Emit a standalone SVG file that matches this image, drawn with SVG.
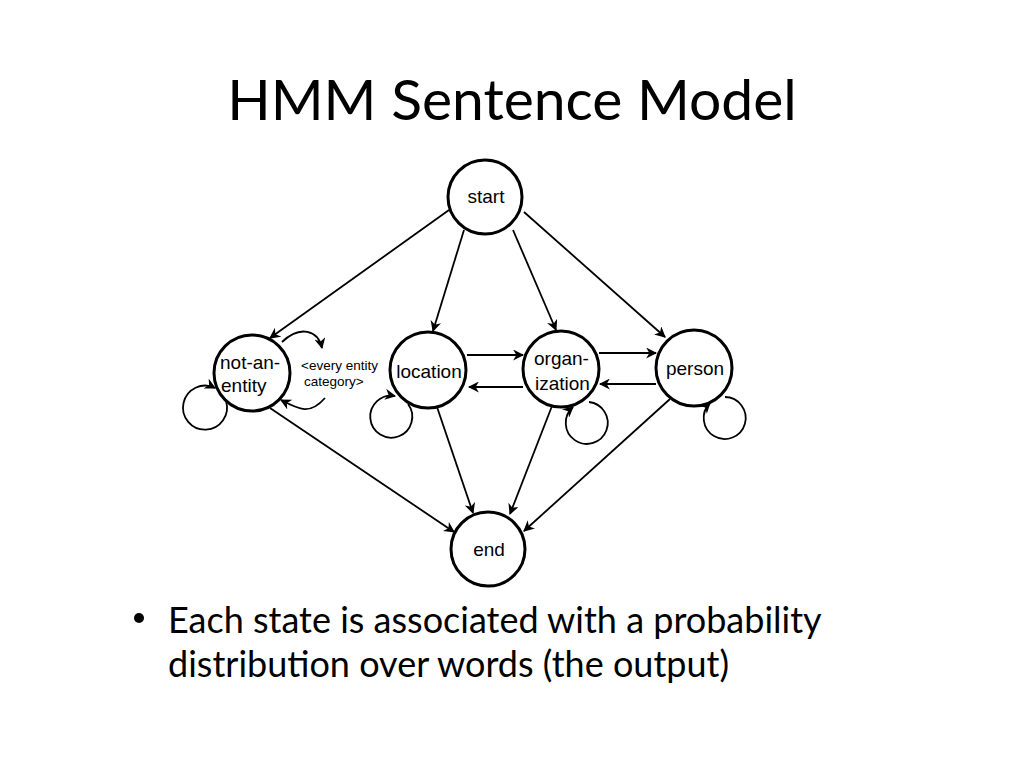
<svg xmlns="http://www.w3.org/2000/svg" width="1024" height="768" viewBox="0 0 1024 768">
<style>
.n{fill:#fff;stroke:#000;stroke-width:3}
.e{fill:none;stroke:#000;stroke-width:1.8}
.t{font-family:"Liberation Sans",Arial,sans-serif;font-size:19px;fill:#000}
.s{font-family:"Liberation Sans",Arial,sans-serif;font-size:13.5px;fill:#000}
.big{font-family:Lato,"Open Sans",sans-serif;fill:#000}
</style>
<defs><marker id="a" viewBox="0 0 10 10" refX="9" refY="5" markerWidth="11" markerHeight="11" orient="auto" markerUnits="userSpaceOnUse"><path d="M0,0L10,5L0,10L3,5z" fill="#000"/></marker></defs>
<rect width="1024" height="768" fill="#fff"/>
<text class="big" x="512" y="120" style="font-size:57px" text-anchor="middle">HMM Sentence Model</text>
<g id="edges" class="e" marker-end="url(#a)">
<line x1="449" y1="210" x2="270" y2="338"/>
<line x1="464" y1="230" x2="433" y2="331"/>
<line x1="513" y1="230" x2="556" y2="330"/>
<line x1="524" y1="212" x2="665" y2="337"/>
<line x1="467" y1="355" x2="523" y2="355"/>
<line x1="523" y1="387" x2="469" y2="387"/>
<line x1="599" y1="353" x2="656" y2="353"/>
<line x1="656" y1="384" x2="600" y2="384"/>
<line x1="270" y1="408" x2="454" y2="532"/>
<line x1="437" y1="407" x2="473" y2="513"/>
<line x1="552" y1="406" x2="510" y2="514"/>
<line x1="670" y1="399" x2="524" y2="531"/>
<path d="M282,342 C300,325 318,330 322,348"/>
<path d="M325,398 C310,415 300,410 281,400"/>
<path d="M226,401 A22 22 0 1 1 215,388"/>
<path d="M408,404 A21 21 0 1 1 395,396"/>
<path d="M589,402 A21 21 0 1 1 573,407"/>
<path d="M725,397 A21 21 0 1 1 710,403"/>
</g>
<g id="start"><circle class="n" cx="485" cy="197" r="37"/><text class="t" x="486" y="203" text-anchor="middle">start</text></g>
<g id="not-an-entity"><circle class="n" cx="252" cy="373" r="38"/><text class="t" x="220" y="369">not-an-</text><text class="t" x="221" y="392">entity</text></g>
<g id="location"><circle class="n" cx="428" cy="370" r="38"/><text class="t" x="429" y="378" text-anchor="middle">location</text></g>
<g id="organization"><circle class="n" cx="561" cy="369" r="38"/><text class="t" x="534" y="365">organ-</text><text class="t" x="535" y="390">ization</text></g>
<g id="person"><circle class="n" cx="694" cy="368" r="38"/><text class="t" x="695" y="375" text-anchor="middle">person</text></g>
<g id="end"><circle class="n" cx="488" cy="549" r="37"/><text class="t" x="489" y="556" text-anchor="middle">end</text></g>
<text class="s" x="301" y="370">&lt;every entity</text>
<text class="s" x="304" y="386">category&gt;</text>
<circle cx="139" cy="618" r="5" fill="#000"/>
<text class="big" x="168" y="633" style="font-size:36px">Each state is associated with a probability</text>
<text class="big" x="168" y="677" style="font-size:36px">distribution over words (the output)</text>
</svg>
